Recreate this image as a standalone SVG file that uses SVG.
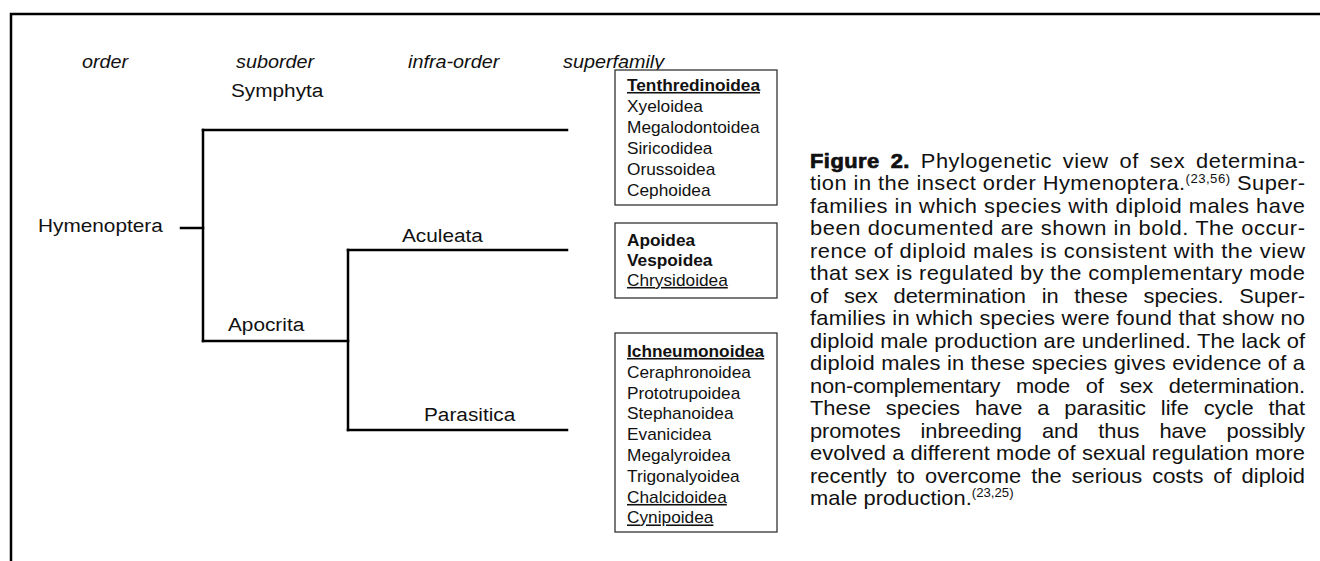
<svg xmlns="http://www.w3.org/2000/svg" width="1320" height="561" viewBox="0 0 1320 561">
<style>
text{font-family:"Liberation Sans",Arial,sans-serif;fill:#111}
.hdr{font-size:18px;font-style:italic}
.lab{font-size:18.9px}
.box{font-size:15.7px}
.b{font-weight:bold}
.u{text-decoration:underline}
.cap{font-size:19.9px}
.sup{font-size:12px}
.fig{font-weight:bold;stroke:#111;stroke-width:0.7}
.ln{stroke:#000;stroke-width:2.5;fill:none;stroke-linecap:square}
.frame{stroke:#000;stroke-width:2.5;fill:none}
.bx{fill:#fff;stroke:#333;stroke-width:1.3}
</style>
<path class="frame" d="M11,561 V14 H1320"/>
<g id="headers">
<text class="hdr" transform="translate(82,68) scale(1.1,1)">order</text>
<text class="hdr" transform="translate(236,68) scale(1.1,1)">suborder</text>
<text class="hdr" transform="translate(408,68) scale(1.1,1)">infra-order</text>
<text class="hdr" transform="translate(563,68) scale(1.1,1)">superfamily</text>
</g>
<g id="connectors">
<path class="ln" d="M181,228 H203"/>
<path class="ln" d="M203,130 V341"/>
<path class="ln" d="M203,130 H567"/>
<path class="ln" d="M203,341 H348"/>
<path class="ln" d="M348,250 V430"/>
<path class="ln" d="M348,250 H567"/>
<path class="ln" d="M348,430 H567"/>
</g>
<g id="hymenoptera"><text class="lab" transform="translate(38,232) scale(1.1,1)">Hymenoptera</text></g>
<g id="symphyta"><text class="lab" transform="translate(231,97) scale(1.1,1)">Symphyta</text></g>
<g id="apocrita"><text class="lab" transform="translate(228,331) scale(1.1,1)">Apocrita</text></g>
<g id="aculeata"><text class="lab" transform="translate(402,242) scale(1.1,1)">Aculeata</text></g>
<g id="parasitica"><text class="lab" transform="translate(424,421) scale(1.1,1)">Parasitica</text></g>
<g id="box-symphyta">
<rect class="bx" x="615" y="70" width="162" height="135"/>
<g transform="translate(627,0) scale(1.1,1)">
<text class="box b u" x="0" y="91">Tenthredinoidea</text>
<text class="box" x="0" y="112">Xyeloidea</text>
<text class="box" x="0" y="133">Megalodontoidea</text>
<text class="box" x="0" y="154">Siricodidea</text>
<text class="box" x="0" y="175">Orussoidea</text>
<text class="box" x="0" y="196">Cephoidea</text>
</g>
</g>
<g id="box-aculeata">
<rect class="bx" x="615" y="223" width="162" height="75"/>
<g transform="translate(627,0) scale(1.1,1)">
<text class="box b" x="0" y="246">Apoidea</text>
<text class="box b" x="0" y="266">Vespoidea</text>
<text class="box u" x="0" y="286">Chrysidoidea</text>
</g>
</g>
<g id="box-parasitica">
<rect class="bx" x="615" y="333" width="162" height="199"/>
<g transform="translate(627,0) scale(1.1,1)">
<text class="box b u" x="0" y="357">Ichneumonoidea</text>
<text class="box" x="0" y="378">Ceraphronoidea</text>
<text class="box" x="0" y="399">Prototrupoidea</text>
<text class="box" x="0" y="419.5">Stephanoidea</text>
<text class="box" x="0" y="440.5">Evanicidea</text>
<text class="box" x="0" y="461">Megalyroidea</text>
<text class="box" x="0" y="482">Trigonalyoidea</text>
<text class="box u" x="0" y="503">Chalcidoidea</text>
<text class="box u" x="0" y="523.5">Cynipoidea</text>
</g>
</g>
<g id="caption" transform="translate(810,0) scale(1.1,1)">
<text class="cap" x="0" y="168" textLength="450" lengthAdjust="spacing" word-spacing="4"><tspan class="fig">Figure 2.</tspan> Phylogenetic view of sex determina-</text>
<text class="cap" x="0" y="190.5" textLength="450" lengthAdjust="spacing">tion in the insect order Hymenoptera.<tspan class="sup" dy="-7.5">(23,56)</tspan><tspan dy="7.5"> Super-</tspan></text>
<text class="cap" x="0" y="213" textLength="450" lengthAdjust="spacing">families in which species with diploid males have</text>
<text class="cap" x="0" y="235.4" textLength="450" lengthAdjust="spacing">been documented are shown in bold. The occur-</text>
<text class="cap" x="0" y="257.9" textLength="450" lengthAdjust="spacing">rence of diploid males is consistent with the view</text>
<text class="cap" x="0" y="280.4" textLength="450" lengthAdjust="spacing">that sex is regulated by the complementary mode</text>
<text class="cap" x="0" y="302.8" textLength="450" lengthAdjust="spacing" word-spacing="8.7">of sex determination in these species. Super-</text>
<text class="cap" x="0" y="325.3" textLength="450" lengthAdjust="spacing">families in which species were found that show no</text>
<text class="cap" x="0" y="347.8" textLength="450" lengthAdjust="spacing">diploid male production are underlined. The lack of</text>
<text class="cap" x="0" y="370.2" textLength="450" lengthAdjust="spacing">diploid males in these species gives evidence of a</text>
<text class="cap" x="0" y="392.7" textLength="450" lengthAdjust="spacing" word-spacing="9">non-complementary mode of sex determination.</text>
<text class="cap" x="0" y="415.2" textLength="450" lengthAdjust="spacing" word-spacing="8">These species have a parasitic life cycle that</text>
<text class="cap" x="0" y="437.6" textLength="450" lengthAdjust="spacing" word-spacing="12.8">promotes inbreeding and thus have possibly</text>
<text class="cap" x="0" y="460.1" textLength="450" lengthAdjust="spacing">evolved a different mode of sexual regulation more</text>
<text class="cap" x="0" y="482.6" textLength="450" lengthAdjust="spacing" word-spacing="3.5">recently to overcome the serious costs of diploid</text>
<text class="cap" x="0" y="505">male production.<tspan class="sup" dy="-7.5">(23,25)</tspan></text>
</g>
</svg>
